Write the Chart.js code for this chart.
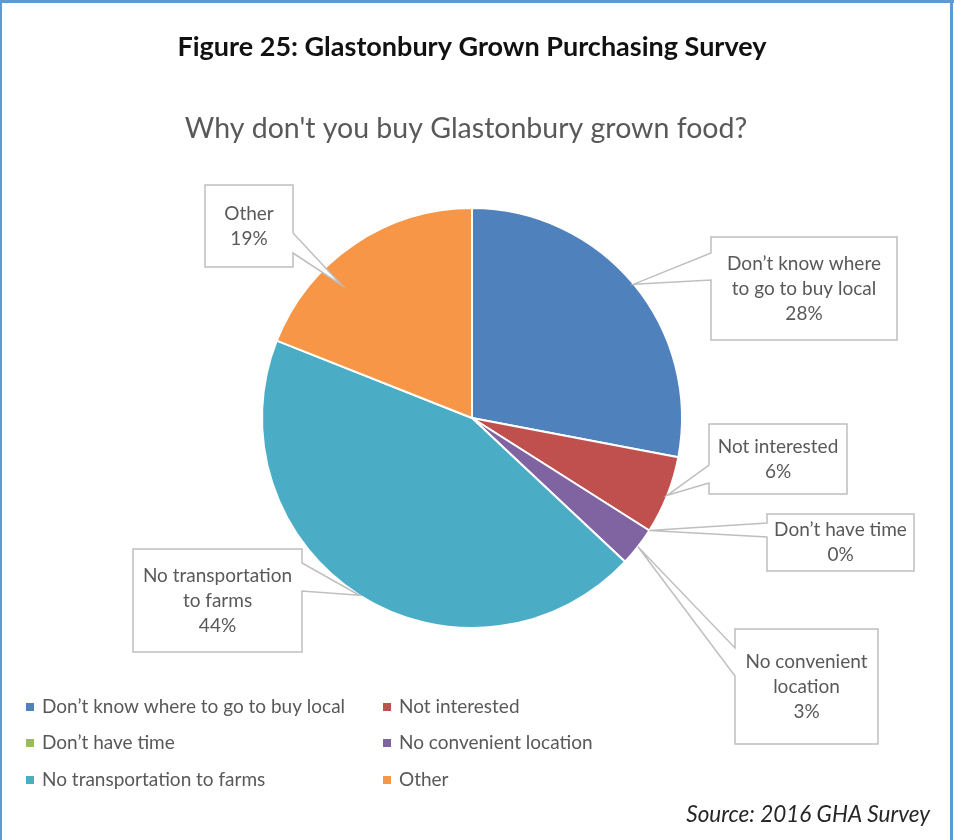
<!DOCTYPE html>
<html>
<head>
<meta charset="utf-8">
<script src="https://cdn.jsdelivr.net/npm/chart.js@4.4.1/dist/chart.umd.min.js"></script>
<style>
  html, body { margin: 0; padding: 0; background: #fff; }
  canvas { display: block; }
</style>
</head>
<body>
<canvas id="survey" width="954" height="840"></canvas>
<script>
// survey answers, clockwise from 12 o'clock
const reasons = [
  'Don’t know where to go to buy local',
  'Not interested',
  'Don’t have time',
  'No convenient location',
  'No transportation to farms',
  'Other'
];
const shares = [28, 6, 0, 3, 44, 19];
const sliceColors = ['#4f81bd', '#c0504d', '#9bbb59', '#8064a2', '#4bacc6', '#f79646'];

const figureTitle = 'Figure 25: Glastonbury Grown Purchasing Survey';
const chartTitle = 'Why don\'t you buy Glastonbury grown food?';
const sourceNote = 'Source: 2016 GHA Survey';

const FONT = 'Lato, "Open Sans", sans-serif';

// callout boxes: rect, side the pointer leaves from, pointer base, wrap width,
// and where on the slice the pointer lands (t = fraction of the sweep, rf = fraction of radius)
const callouts = [
  { x: 711, y: 237, w: 186, h: 103, side: 'left',  b0: 253, b1: 280, wrap: 162, t: 0.5,  rf: 1 },
  { x: 709, y: 424, w: 138, h: 70,  side: 'left',  b0: 465, b1: 483, wrap: 200, t: 0.5,  rf: 1 },
  { x: 767, y: 514, w: 147, h: 57,  side: 'left',  b0: 523, b1: 537, wrap: 200, t: 0.5,  rf: 1 },
  { x: 735, y: 629, w: 143, h: 115, side: 'left',  b0: 648, b1: 676, wrap: 128, t: 0.5,  rf: 1 },
  { x: 133, y: 549, w: 169, h: 103, side: 'right', b0: 563, b1: 591, wrap: 158, t: 0.5,  rf: 1 },
  { x: 205, y: 185, w: 88,  h: 82,  side: 'right', b0: 233, b1: 253, wrap: 80,  t: 0.35, rf: 0.886 }
];

function wrapText(ctx, text, maxWidth) {
  const words = text.split(' ');
  const lines = [];
  let line = '';
  words.forEach(word => {
    const test = line ? line + ' ' + word : word;
    if (line && ctx.measureText(test).width > maxWidth) {
      lines.push(line);
      line = word;
    } else {
      line = test;
    }
  });
  if (line) lines.push(line);
  return lines;
}

const frameAndText = {
  id: 'frameAndText',
  beforeDraw(chart) {
    const ctx = chart.ctx;
    ctx.save();
    // figure frame (top, left, right edges)
    ctx.fillStyle = '#5b9bd5';
    ctx.fillRect(0, 0, 954, 3);
    ctx.fillRect(0, 0, 2, 840);
    ctx.fillRect(950, 0, 3, 840);

    ctx.textAlign = 'center';
    ctx.textBaseline = 'middle';
    ctx.fillStyle = '#111';
    ctx.font = 'bold 27px ' + FONT;
    ctx.fillText(figureTitle, 472, 47);

    ctx.fillStyle = '#595959';
    ctx.font = '28.5px ' + FONT;
    ctx.fillText(chartTitle, 466, 129);

    ctx.textAlign = 'right';
    ctx.fillStyle = '#262626';
    ctx.font = 'italic 22.5px ' + FONT;
    ctx.fillText(sourceNote, 930, 815);
    ctx.restore();
  },
  afterDatasetsDraw(chart) {
    const ctx = chart.ctx;
    const arcs = chart.getDatasetMeta(0).data;
    const values = chart.data.datasets[0].data;
    ctx.save();
    callouts.forEach((c, i) => {
      const arc = arcs[i].getProps(['x', 'y', 'startAngle', 'endAngle', 'outerRadius'], true);
      const a = arc.startAngle + (arc.endAngle - arc.startAngle) * c.t;
      const tx = arc.x + Math.cos(a) * arc.outerRadius * c.rf;
      const ty = arc.y + Math.sin(a) * arc.outerRadius * c.rf;

      ctx.beginPath();
      if (c.side === 'right') {
        ctx.moveTo(c.x, c.y);
        ctx.lineTo(c.x + c.w, c.y);
        ctx.lineTo(c.x + c.w, c.b0);
        ctx.lineTo(tx, ty);
        ctx.lineTo(c.x + c.w, c.b1);
        ctx.lineTo(c.x + c.w, c.y + c.h);
        ctx.lineTo(c.x, c.y + c.h);
      } else {
        ctx.moveTo(c.x, c.y);
        ctx.lineTo(c.x + c.w, c.y);
        ctx.lineTo(c.x + c.w, c.y + c.h);
        ctx.lineTo(c.x, c.y + c.h);
        ctx.lineTo(c.x, c.b1);
        ctx.lineTo(tx, ty);
        ctx.lineTo(c.x, c.b0);
      }
      ctx.closePath();
      ctx.fillStyle = '#fff';
      ctx.fill();
      ctx.strokeStyle = '#bfbfbf';
      ctx.lineWidth = 1.5;
      ctx.stroke();

      ctx.font = '19px ' + FONT;
      ctx.fillStyle = '#595959';
      ctx.textAlign = 'center';
      ctx.textBaseline = 'middle';
      const lines = wrapText(ctx, chart.data.labels[i], c.wrap);
      lines.push(Math.round(values[i]) + '%');
      const lh = 25;
      const top = c.y + c.h / 2 - (lines.length - 1) * lh / 2;
      lines.forEach((ln, k) => ctx.fillText(ln, c.x + c.w / 2, top + k * lh));
    });

    // two-column legend under the pie
    const cols = [26, 383];
    const rows = [707, 743, 780];
    ctx.font = '19px ' + FONT;
    ctx.textAlign = 'left';
    ctx.textBaseline = 'middle';
    chart.data.labels.forEach((label, i) => {
      const lx = cols[i % 2];
      const ly = rows[Math.floor(i / 2)];
      ctx.fillStyle = chart.data.datasets[0].backgroundColor[i];
      ctx.fillRect(lx, ly - 4, 8, 8);
      ctx.fillStyle = '#595959';
      ctx.fillText(label, lx + 16, ly);
    });
    ctx.restore();
  }
};

new Chart(document.getElementById('survey'), {
  type: 'pie',
  data: {
    labels: reasons,
    datasets: [{
      data: shares,
      backgroundColor: sliceColors,
      borderColor: '#ffffff',
      borderWidth: 2
    }]
  },
  options: {
    responsive: false,
    animation: false,
    layout: { padding: { left: 261, right: 271, top: 207, bottom: 211 } },
    plugins: {
      legend: { display: false },
      tooltip: { enabled: false }
    }
  },
  plugins: [frameAndText]
});
</script>
</body>
</html>
